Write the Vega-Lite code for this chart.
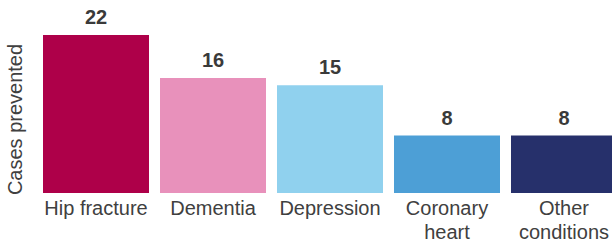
{
  "$schema": "https://vega.github.io/schema/vega-lite/v6.json",
  "width": 569,
  "height": 158,
  "autosize": {"type": "none"},
  "padding": {"left": 43, "top": 35, "right": 0, "bottom": 54},
  "config": {"view": {"stroke": null}, "font": "Liberation Sans"},
  "data": {
    "values": [
      {"condition": "Hip fracture", "cases": 22},
      {"condition": "Dementia", "cases": 16},
      {"condition": "Depression", "cases": 15},
      {"condition": "Coronary heart", "cases": 8},
      {"condition": "Other conditions", "cases": 8}
    ]
  },
  "encoding": {
    "x": {
      "field": "condition",
      "type": "nominal",
      "sort": null,
      "scale": {"range": [0, 574], "paddingInner": 0.094, "paddingOuter": 0},
      "axis": {
        "title": null,
        "domain": false,
        "ticks": false,
        "labelAngle": 0,
        "labelFontSize": 20,
        "labelColor": "#404040",
        "labelPadding": 5,
        "labelLineHeight": 24,
        "labelExpr": "datum.label == 'Coronary heart' ? ['Coronary', 'heart'] : datum.label == 'Other conditions' ? ['Other', 'conditions'] : datum.label"
      }
    },
    "y": {
      "field": "cases",
      "type": "quantitative",
      "scale": {"domain": [0, 22], "nice": false},
      "axis": {
        "title": "Cases prevented",
        "domain": false,
        "ticks": false,
        "labels": false,
        "grid": false,
        "titleFontSize": 20,
        "titleFontWeight": "normal",
        "titleColor": "#404040",
        "titleAngle": 270,
        "titleAlign": "center",
        "titleBaseline": "alphabetic",
        "titleX": -21.5,
        "titleY": 84
      }
    }
  },
  "layer": [
    {
      "mark": {"type": "bar"},
      "encoding": {
        "color": {
          "field": "condition",
          "type": "nominal",
          "legend": null,
          "scale": {
            "domain": ["Hip fracture", "Dementia", "Depression", "Coronary heart", "Other conditions"],
            "range": ["#ae0049", "#e891bb", "#90d1ee", "#4d9fd6", "#26306b"]
          }
        }
      }
    },
    {
      "mark": {"type": "text", "dy": -11, "baseline": "alphabetic", "fontSize": 20, "fontWeight": "bold", "color": "#3a3a3a"},
      "encoding": {"text": {"field": "cases", "type": "quantitative"}}
    }
  ]
}
